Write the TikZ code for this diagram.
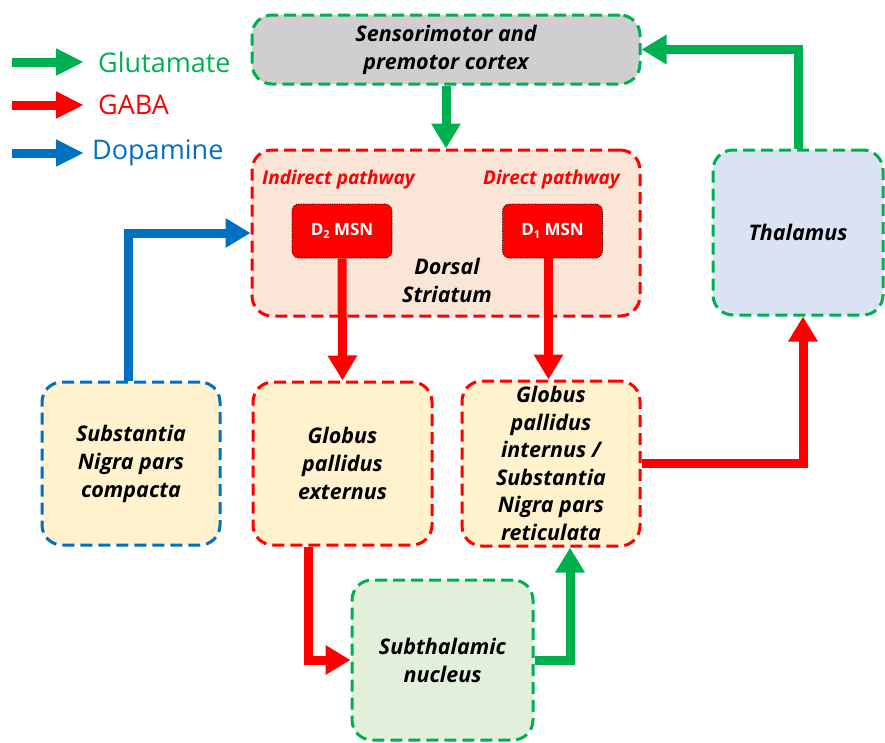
\documentclass[tikz,border=0pt]{standalone}
\usepackage{fontspec}
\setmainfont{Open Sans}
\usetikzlibrary{arrows.meta}
\definecolor{cgreen}{HTML}{00B050}
\definecolor{cred}{HTML}{FF0000}
\definecolor{cblue}{HTML}{0070C0}
\definecolor{fgray}{HTML}{D0CECE}
\definecolor{fpeach}{HTML}{FBE5D6}
\definecolor{fblue}{HTML}{DAE3F3}
\definecolor{fyellow}{HTML}{FFF2CC}
\definecolor{fgreen}{HTML}{E2EFDA}
\begin{document}
\begin{tikzpicture}[x=1pt,y=-1pt,
  box/.style={rounded corners=20pt, line width=3pt, dash pattern=on 12pt off 6pt,
    align=center, inner sep=0pt, font=\fontsize{21.5}{28}\selectfont\bfseries\itshape},
  msn/.style={fill=cred, draw=black, densely dotted, line width=0.8pt, rounded corners=7pt,
    minimum width=100pt, minimum height=54pt, text=white, inner sep=0pt,
    font=\fontsize{17}{20}\selectfont\bfseries},
  arr/.style={line width=9pt, -{Triangle[length=25pt,width=28pt]}},
  larr/.style={line width=9pt, -{Triangle[length=28pt,width=25pt]}},
  leg/.style={anchor=west, inner sep=0pt, font=\fontsize{27}{30}\selectfont},
  path/.style={font=\fontsize{19}{22}\selectfont\bfseries\itshape, text=cred, inner sep=0pt}
]
\useasboundingbox (0,0) rectangle (885,742);

% nodes
\node[box, draw=cgreen, fill=fgray, minimum width=388pt, minimum height=69pt] (ctx) at (446,49.5) {Sensorimotor and\\premotor cortex};
\node[box, draw=cred, fill=fpeach, minimum width=388pt, minimum height=166pt] (str) at (446,233) {};
\node[inner sep=0pt, align=center, font=\fontsize{21.5}{28}\selectfont\bfseries\itshape] (strl) at (447,280) {Dorsal\\Striatum};
\node[path, anchor=west] (ind) at (262,180) {Indirect pathway};
\node[path, anchor=east] (dir) at (620,180) {Direct pathway};
\node[msn] (d2) at (342,231) {D\raisebox{-3pt}{\fontsize{11}{11}\selectfont 2} MSN};
\node[msn] (d1) at (552.5,231) {D\raisebox{-3pt}{\fontsize{11}{11}\selectfont 1} MSN};
\node[box, draw=cgreen, fill=fblue, minimum width=170pt, minimum height=165pt] (thal) at (798,232.5) {Thalamus};
\node[box, draw=cblue, fill=fyellow, minimum width=178pt, minimum height=163pt] (snpc) at (131,463.5) {Substantia\\Nigra pars\\compacta};
\node[box, draw=cred, fill=fyellow, minimum width=179pt, minimum height=163pt] (gpe) at (342.5,463.5) {Globus\\pallidus\\externus};
\node[box, draw=cred, fill=fyellow, minimum width=178pt, minimum height=165pt, font=\fontsize{21.5}{27.5}\selectfont\bfseries\itshape] (gpi) at (551,463.5) {Globus\\pallidus\\internus /\\Substantia\\Nigra pars\\reticulata};
\node[box, draw=cgreen, fill=fgreen, minimum width=181pt, minimum height=160pt] (stn) at (442.5,660) {Subthalamic\\nucleus};

% legend
\coordinate (g0) at (12,62); \coordinate (g1) at (84,62);
\coordinate (r0) at (12,105); \coordinate (r1) at (84,105);
\coordinate (b0) at (12,153); \coordinate (b1) at (84,153);
\draw[larr, cgreen] (g0) -- (g1);
\draw[larr, cred] (r0) -- (r1);
\draw[larr, cblue] (b0) -- (b1);
\node[leg, text=cgreen] (lg) at (98,62) {Glutamate};
\node[leg, text=cred] (lr) at (98,105) {GABA};
\node[leg, text=cblue] (lb) at (92,153) {Dopamine};

% connectors
\draw[arr, cgreen] (ctx.south) -- (str.north);
\draw[arr, cgreen] (thal.north) |- (ctx.east);
\draw[arr, cblue] ([xshift=-3pt]snpc.north) |- (str.west);
\draw[arr, cred] (d2.south) -- (gpe.north);
\draw[arr, cred] ([xshift=-4pt]d1.south) -- ([xshift=-4pt]d1.south |- gpi.north);
\draw[arr, cred] (gpi.east) -| ([xshift=5pt]thal.south);
\draw[arr, cred] ([xshift=-34.5pt]gpe.south) |- (stn.west);
\draw[arr, cgreen] (stn.east) -| ([xshift=19pt]gpi.south);
\end{tikzpicture}
\end{document}
